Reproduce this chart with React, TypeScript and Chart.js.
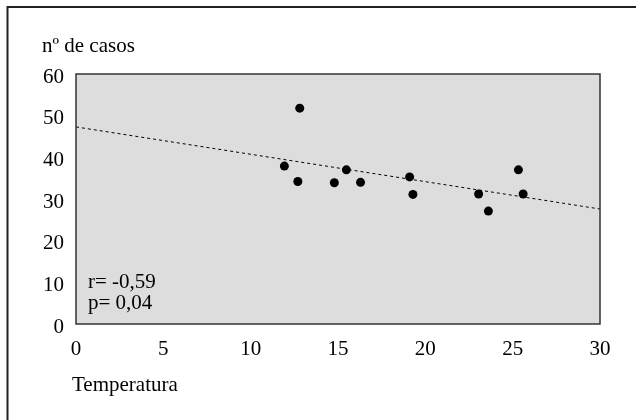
import React, { useEffect, useRef } from "react";
import { Chart, registerables } from "chart.js";

Chart.register(...registerables);

const temperatura = [11.93, 12.81, 12.7, 14.79, 15.48, 16.29, 19.1, 19.29, 23.05, 23.61, 25.33, 25.6];
const casos = [37.9, 51.8, 34.2, 33.9, 37.0, 34.0, 35.3, 31.1, 31.2, 27.1, 37.0, 31.2];
const trendX = [0, 30];
const trendY = [47.3, 27.6];
const xTicks = [0, 5, 10, 15, 20, 25, 30];
const yTicks = [0, 10, 20, 30, 40, 50, 60];
const yTitle = "nº de casos";
const xTitle = "Temperatura";
const statsLines = ["r= -0,59", "p= 0,04"];

const FONT = "'Liberation Serif', 'Times New Roman', serif";

const decorPlugin = {
  id: "decor",
  beforeDraw(chart: any) {
    const { ctx, chartArea } = chart;
    ctx.save();
    ctx.fillStyle = "#ffffff";
    ctx.fillRect(0, 0, chart.width, chart.height);
    ctx.fillStyle = "#dddddd";
    ctx.fillRect(chartArea.left, chartArea.top, chartArea.right - chartArea.left, chartArea.bottom - chartArea.top);
    ctx.strokeStyle = "#222222";
    ctx.lineWidth = 2;
    ctx.beginPath();
    ctx.moveTo(7.5, chart.height);
    ctx.lineTo(7.5, 7);
    ctx.lineTo(chart.width, 7);
    ctx.stroke();
    ctx.restore();
  },
  afterDraw(chart: any) {
    const { ctx, chartArea } = chart;
    ctx.save();
    ctx.strokeStyle = "#333333";
    ctx.lineWidth = 1.5;
    ctx.strokeRect(chartArea.left, chartArea.top, chartArea.right - chartArea.left, chartArea.bottom - chartArea.top);
    ctx.fillStyle = "#000000";
    ctx.font = `21px ${FONT}`;
    ctx.textBaseline = "middle";
    ctx.textAlign = "left";
    ctx.fillText(yTitle, 42, 46);
    ctx.fillText(xTitle, 72, 385);
    ctx.fillText(statsLines[0], 88, 282);
    ctx.fillText(statsLines[1], 88, 303);
    ctx.restore();
  },
};

export default function App() {
  const ref = useRef<HTMLCanvasElement | null>(null);
  useEffect(() => {
    document.body.style.margin = "0";
    const canvas = ref.current;
    if (!canvas) return;
    const chart = new Chart(canvas, {
      type: "scatter",
      data: {
        datasets: [
          {
            type: "line",
            data: trendX.map((x, i) => ({ x, y: trendY[i] })),
            borderColor: "#000000",
            borderWidth: 1,
            borderDash: [3, 3],
            pointRadius: 0,
            fill: false,
          } as any,
          {
            type: "scatter",
            data: temperatura.map((x, i) => ({ x, y: casos[i] })),
            backgroundColor: "#000000",
            borderColor: "#000000",
            pointRadius: 4.5,
            pointBorderWidth: 0,
          },
        ],
      },
      options: {
        responsive: false,
        animation: false,
        layout: { padding: { top: 74, left: 0, right: 36, bottom: 0 } },
        plugins: { legend: { display: false }, tooltip: { enabled: false } },
        scales: {
          x: {
            type: "linear",
            min: 0,
            max: 30,
            afterBuildTicks: (s: any) => { s.ticks = xTicks.map((v) => ({ value: v })); },
            afterFit: (s: any) => { s.height = 96; },
            grid: { display: false, drawTicks: false },
            border: { display: false },
            ticks: { color: "#000", padding: 13, font: { family: FONT, size: 21 }, maxRotation: 0 },
          },
          y: {
            type: "linear",
            min: 0,
            max: 60,
            afterBuildTicks: (s: any) => { s.ticks = yTicks.map((v) => ({ value: v })); },
            afterFit: (s: any) => { s.width = 76; },
            grid: { display: false, drawTicks: false },
            border: { display: false },
            ticks: { color: "#000", padding: 12, labelOffset: 3, font: { family: FONT, size: 21 } },
          },
        },
      },
      plugins: [decorPlugin],
    });
    return () => chart.destroy();
  }, []);
  return <canvas ref={ref} width={636} height={420} style={{ display: "block" }} />;
}
